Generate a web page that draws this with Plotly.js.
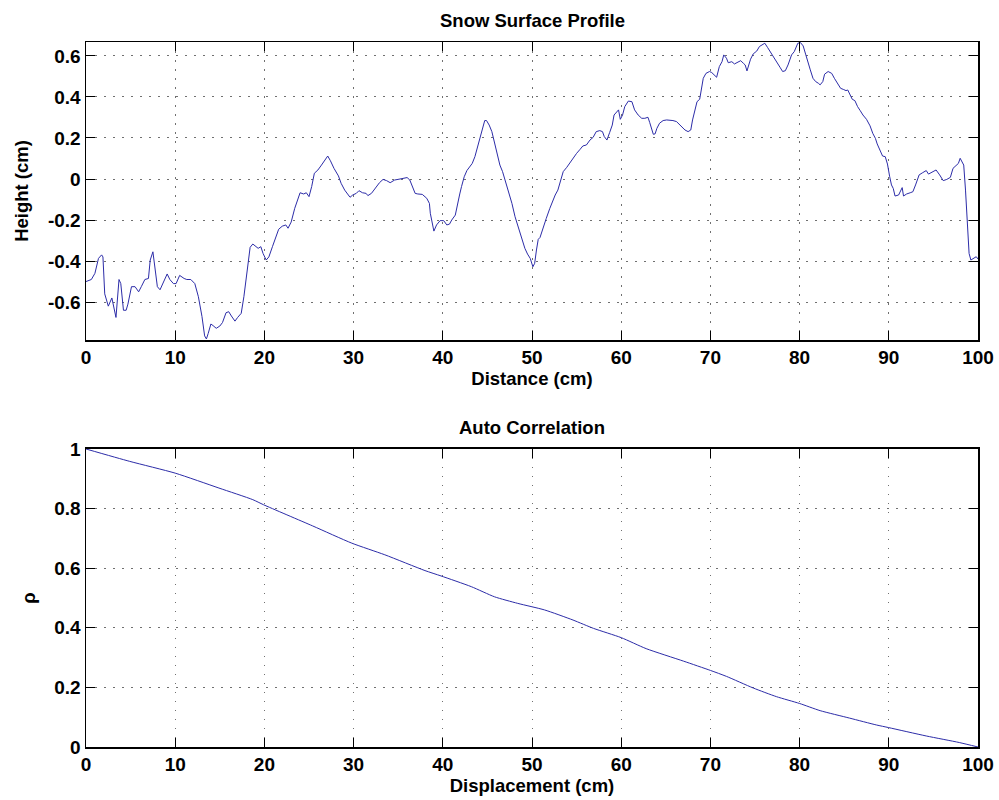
<!DOCTYPE html>
<html>
<head>
<meta charset="utf-8">
<script src="https://cdn.plot.ly/plotly-3.0.1.min.js"></script>
<style>html,body{margin:0;padding:0;background:#fff;}#chart{width:999px;height:800px;}</style>
</head>
<body>
<div id="chart"></div>
<script>
// ---- Data ----
const profileDistance = [
  0, 0.6, 1.0, 1.4, 1.75, 1.9, 2.1, 2.5, 2.9, 3.06, 3.36, 3.7, 3.9, 4.2, 4.5, 4.7, 5.1, 5.5, 5.9, 6.2,
  6.6, 7.0, 7.2, 7.5, 7.6, 8.0, 8.3, 8.7, 9.1, 9.4, 9.8, 10.1, 10.5, 11.0, 11.3, 11.75, 12.2, 12.6, 13.0, 13.3,
  13.5, 13.7, 14.0, 14.25, 14.6, 15.0, 15.3, 15.7, 16.0, 16.3, 16.7, 17.0, 17.4, 17.7, 18.0, 18.4, 18.7, 19.0, 19.3, 19.6,
  19.85, 20.2, 20.5, 20.9, 21.3, 21.6, 22.0, 22.4, 22.65, 23.0, 23.4, 23.8, 24.0, 24.4, 24.7, 25.0, 25.3, 25.6, 26.0, 26.4,
  26.8, 27.1, 27.4, 27.8, 28.3, 28.6, 29.0, 29.4, 29.6, 29.9, 30.3, 30.6, 31.0, 31.4, 31.6, 32.0, 32.4, 32.9, 33.3, 33.7,
  34.1, 34.6, 35.2, 35.6, 36.0, 36.3, 36.6, 36.9, 37.2, 37.7, 38.2, 38.5, 38.6, 38.8, 39.0, 39.3, 39.7, 40.1, 40.45, 40.75,
  41.0, 41.4, 41.6, 41.9, 42.1, 42.4, 42.7, 43.0, 43.3, 43.6, 43.9, 44.2, 44.5, 44.7, 44.9, 45.2, 45.5, 45.8, 46.1, 46.4,
  46.7, 47.0, 47.4, 47.75, 48.1, 48.5, 48.9, 49.2, 49.5, 49.8, 50.1, 50.3, 50.5, 50.7, 50.9, 51.2, 51.6, 52.0, 52.35, 52.6,
  52.9, 53.2, 53.5, 53.9, 54.2, 54.6, 55.0, 55.4, 55.7, 56.1, 56.5, 56.85, 57.2, 57.6, 57.9, 58.1, 58.4, 58.7, 59.0, 59.2,
  59.5, 59.7, 59.9, 60.15, 60.4, 60.8, 61.2, 61.5, 61.9, 62.3, 62.65, 63.0, 63.2, 63.4, 63.6, 63.8, 64.0, 64.3, 64.7, 65.1,
  65.5, 65.8, 66.2, 66.6, 66.9, 67.15, 67.5, 67.8, 68.0, 68.3, 68.5, 68.8, 69.0, 69.2, 69.5, 69.9, 70.15, 70.4, 70.7, 71.0,
  71.3, 71.5, 71.8, 72.0, 72.4, 72.7, 73.0, 73.4, 73.7, 73.9, 74.1, 74.3, 74.5, 74.8, 75.2, 75.5, 75.9, 76.1, 76.4, 76.8,
  77.2, 77.5, 77.8, 78.1, 78.4, 78.7, 78.9, 79.1, 79.4, 79.6, 79.8, 80.1, 80.4, 80.7, 81.0, 81.2, 81.5, 81.8, 82.1, 82.3,
  82.6, 82.8, 83.2, 83.6, 83.9, 84.2, 84.6, 84.9, 85.2, 85.4, 85.65, 85.9, 86.2, 86.5, 86.8, 87.1, 87.5, 87.9, 88.2, 88.5,
  88.7, 89.0, 89.3, 89.6, 89.85, 90.1, 90.3, 90.5, 90.7, 91.1, 91.5, 91.65, 92.0, 92.4, 92.7, 93.0, 93.2, 93.4, 93.8, 94.2,
  94.45, 94.8, 95.3, 95.7, 96.1, 96.5, 96.9, 97.2, 97.6, 97.8, 98.0, 98.2, 98.4, 98.6, 98.8, 99.0, 99.2, 99.5, 99.8, 100
];
const profileHeight = [
  -0.50, -0.49, -0.46, -0.387, -0.37, -0.38, -0.56, -0.62, -0.58, -0.61, -0.675, -0.49, -0.51, -0.64, -0.64, -0.61, -0.525, -0.525, -0.55, -0.525,
  -0.49, -0.485, -0.395, -0.355, -0.395, -0.525, -0.54, -0.50, -0.463, -0.49, -0.51, -0.51, -0.47, -0.485, -0.49, -0.49, -0.51, -0.574, -0.67, -0.765,
  -0.78, -0.753, -0.707, -0.715, -0.728, -0.717, -0.70, -0.652, -0.647, -0.668, -0.693, -0.675, -0.655, -0.574, -0.46, -0.333, -0.317, -0.327, -0.338, -0.33,
  -0.363, -0.395, -0.38, -0.33, -0.28, -0.245, -0.23, -0.224, -0.24, -0.21, -0.143, -0.086, -0.067, -0.073, -0.067, -0.086, -0.037, 0.028, 0.044, 0.068,
  0.096, 0.112, 0.089, 0.052, 0.015, -0.021, -0.054, -0.078, -0.089, -0.078, -0.07, -0.057, -0.067, -0.07, -0.081, -0.07, -0.046, -0.018, -0.002, -0.008,
  -0.018, -0.005, 0.0, 0.002, 0.007, -0.005, -0.037, -0.07, -0.073, -0.075, -0.094, -0.119, -0.167, -0.216, -0.254, -0.224, -0.203, -0.203, -0.224, -0.22,
  -0.2, -0.176, -0.127, -0.073, -0.037, 0.011, 0.041, 0.06, 0.076, 0.109, 0.158, 0.215, 0.263, 0.285, 0.285, 0.263, 0.231, 0.174, 0.117, 0.068,
  0.036, -0.005, -0.062, -0.119, -0.184, -0.24, -0.306, -0.338, -0.366, -0.387, -0.428, -0.411, -0.346, -0.294, -0.285, -0.24, -0.192, -0.143, -0.102, -0.078,
  -0.054, -0.005, 0.036, 0.057, 0.076, 0.1, 0.125, 0.145, 0.161, 0.166, 0.19, 0.203, 0.231, 0.236, 0.231, 0.207, 0.19, 0.226, 0.263, 0.312,
  0.328, 0.337, 0.291, 0.312, 0.353, 0.38, 0.377, 0.337, 0.312, 0.296, 0.296, 0.301, 0.275, 0.239, 0.218, 0.22, 0.247, 0.272, 0.285, 0.288,
  0.288, 0.285, 0.28, 0.263, 0.252, 0.239, 0.231, 0.239, 0.288, 0.345, 0.377, 0.389, 0.45, 0.491, 0.515, 0.524, 0.519, 0.507, 0.496, 0.548,
  0.572, 0.605, 0.589, 0.567, 0.572, 0.561, 0.567, 0.577, 0.564, 0.556, 0.527, 0.556, 0.584, 0.61, 0.624, 0.646, 0.659, 0.662, 0.642, 0.616,
  0.589, 0.567, 0.545, 0.524, 0.528, 0.556, 0.584, 0.605, 0.621, 0.642, 0.662, 0.665, 0.649, 0.605, 0.567, 0.532, 0.491, 0.475, 0.467, 0.459,
  0.475, 0.511, 0.524, 0.515, 0.491, 0.467, 0.442, 0.437, 0.431, 0.434, 0.41, 0.389, 0.382, 0.353, 0.333, 0.312, 0.291, 0.259, 0.223, 0.198,
  0.171, 0.141, 0.112, 0.109, 0.073, 0.011, -0.029, -0.046, -0.083, -0.078, -0.042, -0.083, -0.073, -0.067, -0.062, -0.029, -0.005, 0.02, 0.031, 0.041,
  0.024, 0.031, 0.044, 0.02, -0.008, -0.002, 0.008, 0.052, 0.068, 0.076, 0.101, 0.08, 0.068, -0.054, -0.216, -0.363, -0.395, -0.387, -0.379, -0.39
];
const lagDisplacement = [0, 4.9, 10, 14.9, 18.7, 19.9, 25.4, 29.8, 33.5, 38.0, 39.8, 43.2, 45.8, 48.4, 51.4, 54.6, 56.9, 60, 62.8, 67.0, 70, 71.8, 74.8, 77.4, 80, 82.3, 85.6, 88.6, 90, 94.2, 97.9, 100];
const autoCorrelation = [1.0, 0.9585, 0.919, 0.869, 0.83, 0.813, 0.742, 0.684, 0.645, 0.592, 0.574, 0.538, 0.504, 0.482, 0.46, 0.426, 0.398, 0.367, 0.33, 0.288, 0.257, 0.237, 0.198, 0.169, 0.146, 0.122, 0.097, 0.074, 0.065, 0.037, 0.015, 0.0];

const xTickVals = [0, 10, 20, 30, 40, 50, 60, 70, 80, 90, 100];
const xTickText = ['0', '10', '20', '30', '40', '50', '60', '70', '80', '90', '100'];
const heightTickVals = [-0.6, -0.4, -0.2, 0, 0.2, 0.4, 0.6];
const heightTickText = ['-0.6', '-0.4', '-0.2', '0', '0.2', '0.4', '0.6'];
const rhoTickVals = [0, 0.2, 0.4, 0.6, 0.8, 1];
const rhoTickText = ['0', '0.2', '0.4', '0.6', '0.8', '1'];

// ---- Styling ----
const FONT = 'Liberation Sans, Arial, Helvetica, sans-serif';
const lineColor = '#2c2ca8';
const tickFont = {family: FONT, size: 19, color: '#000', weight: 'bold'};
const titleFont = {family: FONT, size: 18.5, color: '#000', weight: 'bold'};

function axisBase(extra) {
  return Object.assign({
    showline: true, linecolor: '#000', linewidth: 1.5, mirror: 'allticks',
    ticks: 'inside', ticklen: 9, tickwidth: 1, tickcolor: '#000',
    showgrid: true, gridcolor: '#707070', gridwidth: 1, griddash: '1.5px,7.5px',
    zeroline: false, tickfont: tickFont, automargin: false, fixedrange: true
  }, extra);
}

const traces = [
  {x: profileDistance, y: profileHeight, type: 'scatter', mode: 'lines',
   line: {color: lineColor, width: 1}, xaxis: 'x', yaxis: 'y', hoverinfo: 'skip'},
  {x: lagDisplacement, y: autoCorrelation, type: 'scatter', mode: 'lines',
   line: {color: lineColor, width: 1, shape: 'spline', smoothing: 0.6}, xaxis: 'x2', yaxis: 'y2', hoverinfo: 'skip'}
];

const layout = {
  width: 999, height: 800,
  margin: {l: 86, r: 21, t: 42, b: 53},
  paper_bgcolor: '#fff', plot_bgcolor: '#fff',
  showlegend: false,
  xaxis: axisBase({domain: [0, 1], range: [0, 100], tickvals: xTickVals, ticktext: xTickText, anchor: 'y',
    title: {text: 'Distance (cm)', font: titleFont, standoff: 4}}),
  yaxis: axisBase({domain: [0.5773, 1], range: [-0.785, 0.668], tickvals: heightTickVals, ticktext: heightTickText, anchor: 'x',
    title: {text: 'Height (cm)', font: titleFont, standoff: 14}}),
  xaxis2: axisBase({domain: [0, 1], range: [0, 100], tickvals: xTickVals, ticktext: xTickText, anchor: 'y2',
    title: {text: 'Displacement (cm)', font: titleFont, standoff: 4}}),
  yaxis2: axisBase({domain: [0, 0.4227], range: [0, 1], tickvals: rhoTickVals, ticktext: rhoTickText, anchor: 'x2',
    title: {text: 'ρ', font: titleFont, standoff: 14}}),
  annotations: [
    {text: 'Snow Surface Profile', xref: 'paper', yref: 'paper', x: 0.5, y: 1.031, xanchor: 'center', yanchor: 'middle',
     showarrow: false, font: titleFont},
    {text: 'Auto Correlation', xref: 'paper', yref: 'paper', x: 0.5, y: 0.4525, xanchor: 'center', yanchor: 'middle',
     showarrow: false, font: titleFont}
  ]
};

Plotly.newPlot('chart', traces, layout, {staticPlot: true, displayModeBar: false});
</script>
</body>
</html>
